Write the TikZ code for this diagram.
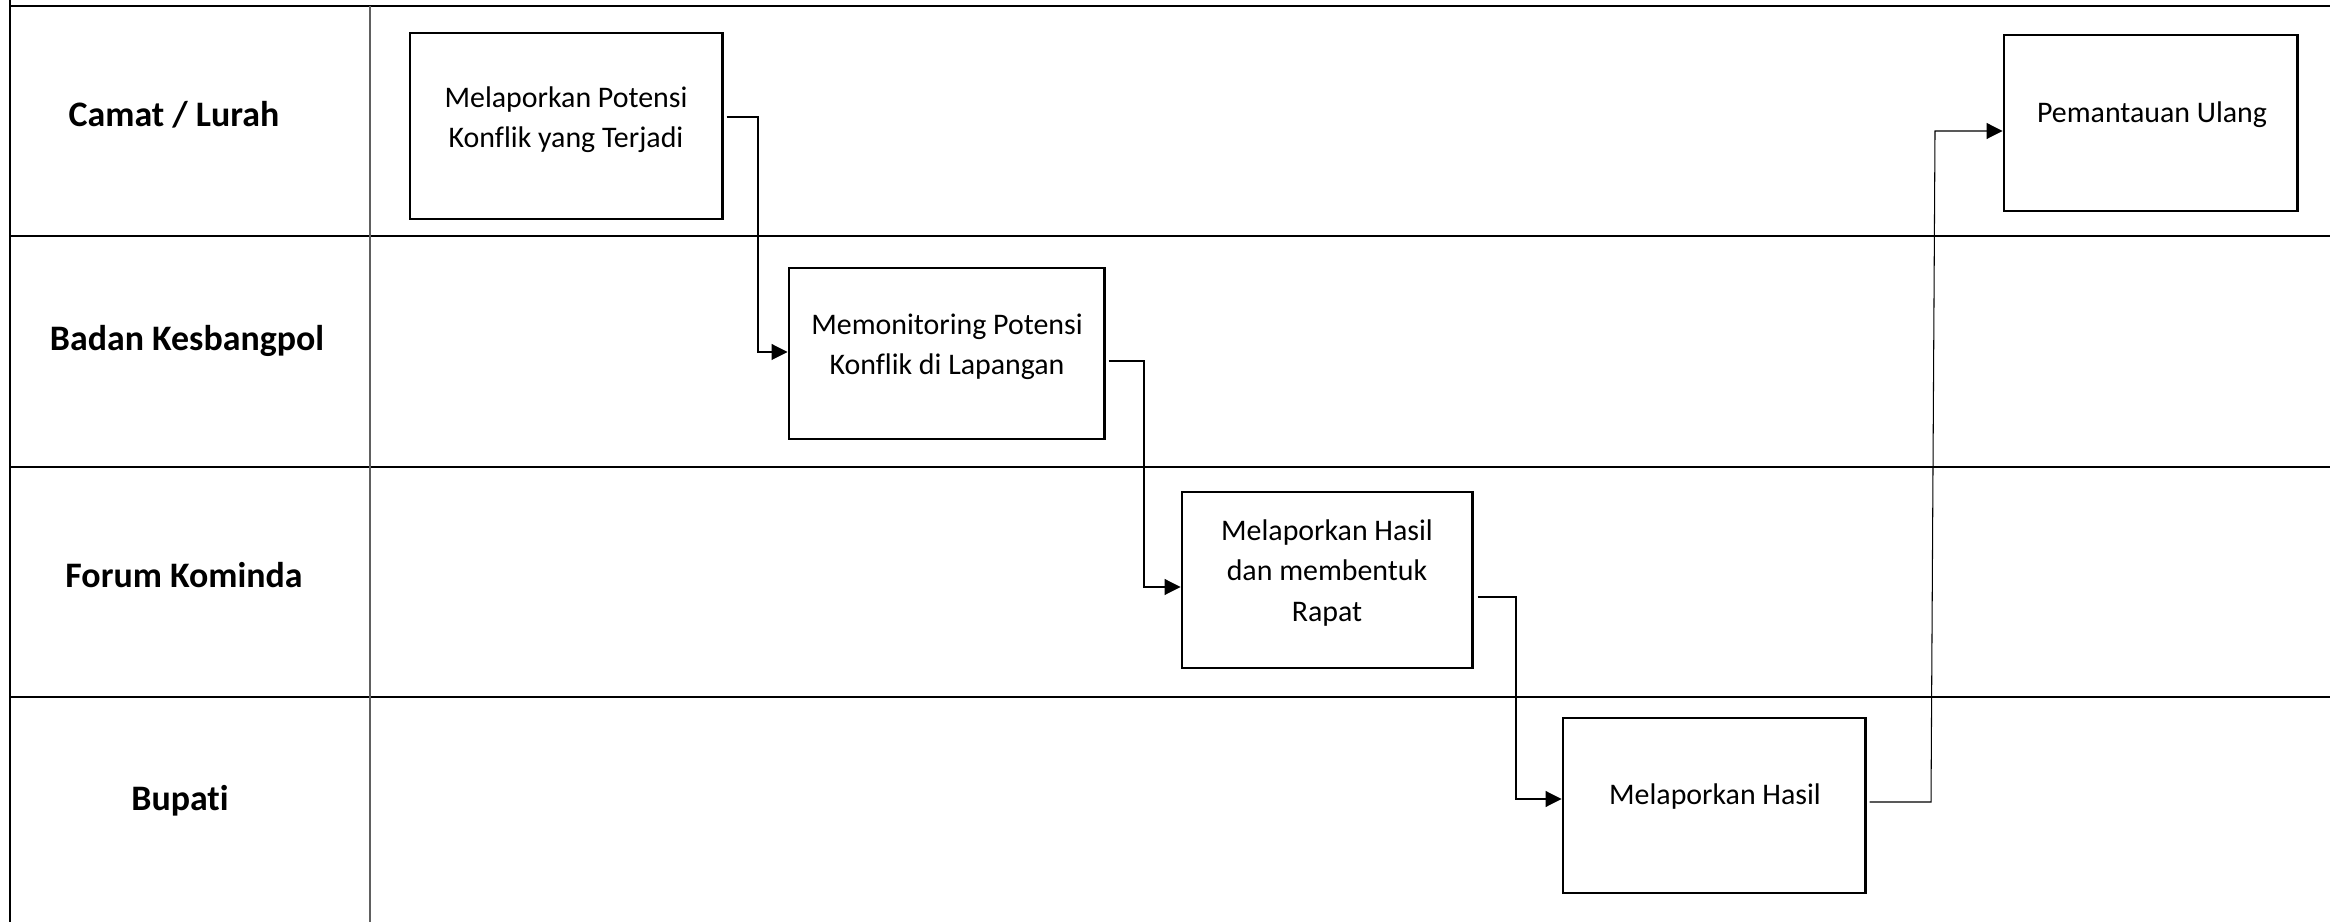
\documentclass[tikz,border=0pt]{standalone}
\usepackage{fontspec}
\setmainfont{Carlito}[Ligatures=NoCommon]
\usetikzlibrary{arrows.meta,calc}
\definecolor{divgray}{HTML}{606060}
\begin{document}
\begin{tikzpicture}[x=0.01cm,y=-0.01cm,
  lane/.style={line width=0.6pt,black},
  coldiv/.style={line width=0.45pt,divgray},
  procbox/.style={draw=black,line width=0.8pt,fill=none,inner sep=0pt},
  proctext/.style={align=center,font=\fontsize{8.5}{11.4}\selectfont,inner sep=0pt},
  lanelabel/.style={font=\fontsize{10.2}{12}\selectfont\bfseries,inner sep=0pt},
  conn/.style={line width=0.3pt,black},
  arr/.style={conn,-{Triangle[length=0.16cm,width=0.16cm]}}]
\useasboundingbox (0,0) rectangle (2330,922);
% lanes
\draw[lane] (10,0) -- (10,922);
\draw[lane] (10,6) -- (2330,6);
\draw[lane] (10,236) -- (2330,236);
\draw[lane] (10,467) -- (2330,467);
\draw[lane] (10,697) -- (2330,697);
\draw[coldiv] (370,6) -- (370,922);
% lane labels
\node[lanelabel] (l1) at (174,115) {Camat / Lurah};
\node[lanelabel] (l2) at (187,341) {Badan Kesbangpol};
\node[lanelabel] (l3) at (184,575) {Forum Kominda};
\node[lanelabel] (l4) at (180,801) {Bupati};
% boxes
\node[procbox,minimum width=3.12cm,minimum height=1.86cm] (b1) at (566,126) {};
\node[procbox,minimum width=3.15cm,minimum height=1.71cm] (b2) at (946.5,353.5) {};
\node[procbox,minimum width=2.90cm,minimum height=1.76cm] (b3) at (1327,580) {};
\node[procbox,minimum width=3.02cm,minimum height=1.75cm] (b4) at (1714,805.5) {};
\node[procbox,minimum width=2.93cm,minimum height=1.76cm] (b5) at (2150.5,123) {};
% texts
\node[proctext] (t1) at (566,120) {Melaporkan Potensi\\Konflik yang Terjadi};
\node[proctext] (t2) at (947,347) {Memonitoring Potensi\\Konflik di Lapangan};
\node[proctext] (t3) at (1327,573) {Melaporkan Hasil\\dan membentuk\\Rapat};
\node[proctext] (t4) at (1715,797) {Melaporkan Hasil};
\node[proctext] (t5) at (2152,115) {Pemantauan Ulang};
% connectors
\draw[arr] ($(b1.east |- 0,117)+(3,0)$) -- (758,117) -- (758,352) -- (b2.west |- 0,352);
\draw[arr] ($(b2.east |- 0,361)+(3,0)$) -- (1144,361) -- (1144,587) -- (b3.west |- 0,587);
\draw[arr] ($(b3.east |- 0,597)+(4,0)$) -- (1516,597) -- (1516,799) -- (b4.west |- 0,799);
\coordinate (c4a) at (1931,802);
\coordinate (c4b) at (1935,131);
\draw[arr] ($(b4.east |- 0,802)+(3,0)$) -- (c4a) -- (c4b) -- (b5.west |- 0,131);
\end{tikzpicture}
\end{document}
